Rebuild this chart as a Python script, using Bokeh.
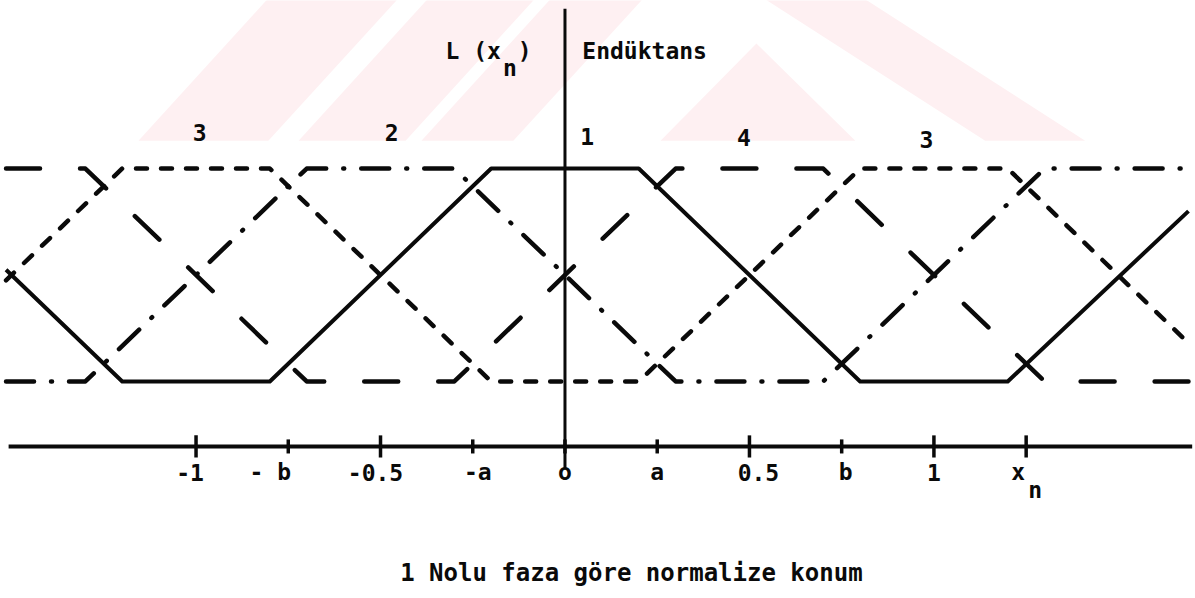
from bokeh.plotting import figure
from bokeh.models import Range1d, ColumnDataSource
from bokeh.core.properties import value
from bokeh.embed import file_html
from bokeh.resources import INLINE

# Normalized rotor position x_n (relative to phase 1) and normalized inductance L
phase1_x = [-1.515, -1.2, -0.8, -0.2, 0.2, 0.8, 1.2, 1.69]
phase1_L = [0.525, 0.0, 0.0, 1.0, 1.0, 0.0, 0.0, 0.8]
phase2_x = [-1.515, -1.3, -0.7, -0.3, 0.3, 0.7, 1.3, 1.69]
phase2_L = [0.0, 0.0, 1.0, 1.0, 0.0, 0.0, 1.0, 1.0]
phase3_x = [-1.515, -1.2, -0.8, -0.2, 0.2, 0.8, 1.2, 1.69]
phase3_L = [0.475, 1.0, 1.0, 0.0, 0.0, 1.0, 1.0, 0.18]
phase4_x = [-1.515, -1.3, -0.7, -0.3, 0.3, 0.7, 1.3, 1.69]
phase4_L = [1.0, 1.0, 0.0, 0.0, 1.0, 1.0, 0.0, 0.0]

# Phase numbers written above the curves
phase_label_text = ["3", "2", "1", "4", "3"]
phase_label_x = [-0.99, -0.47, 0.06, 0.485, 0.98]
phase_label_L = [1.17, 1.17, 1.15, 1.145, 1.135]

# Position axis ticks
tick_values = [-1.0, -0.75, -0.5, -0.25, 0.0, 0.25, 0.5, 0.75, 1.0, 1.25]
tick_labels = ["-1", "- b", "-0.5", "-a", "o", "a", "0.5", "b", "1", "x"]
tick_major = [True, False, True, False, False, False, True, False, True, True]

# faint background emblem behind the upper part of the page
emblem_xs = [
    [-1.156, -0.804, -0.451, -0.804],
    [-0.722, -0.432, -0.080, -0.370],
    [-0.389, -0.140, 0.213, -0.037],
    [0.259, 0.519, 0.787],
    [0.538, 0.809, 1.410, 1.139],
]
emblem_ys = [
    [1.131, 1.131, 1.80, 1.80],
    [1.131, 1.131, 1.80, 1.80],
    [1.131, 1.131, 1.80, 1.80],
    [1.131, 1.587, 1.131],
    [1.80, 1.80, 1.131, 1.131],
]

AXIS_L = -0.305
FONT = value("DejaVu Sans Mono")

p = figure(width=1195, height=598, output_backend="svg", toolbar_location=None,
           x_range=Range1d(-1.530, 1.709), y_range=Range1d(-1.019, 1.789),
           min_border=0, min_border_left=0, min_border_right=0,
           min_border_top=0, min_border_bottom=0)
p.axis.visible = False
p.grid.visible = False
p.outline_line_color = None
p.background_fill_color = "white"
p.border_fill_color = "white"

ink = "#0a0a0a"

p.patches(emblem_xs, emblem_ys, fill_color="#fef0f2", line_color=None)

# inductance profiles of the four phases
p.line(phase1_x, phase1_L, line_color=ink, line_width=4, line_join="round")
p.line(phase2_x, phase2_L, line_color=ink, line_width=4.5, line_dash="28 17 1 17",
       line_cap="round", line_join="round")
p.line(phase3_x, phase3_L, line_color=ink, line_width=4.5, line_dash="11 14",
       line_cap="round", line_join="round")
p.line(phase4_x, phase4_L, line_color=ink, line_width=4.5, line_dash="34 40",
       line_cap="round", line_join="round")

# axes drawn as plain lines
p.line([-1.508, 1.70], [AXIS_L, AXIS_L], line_color=ink, line_width=4)
p.line([0.0, 0.0], [-0.41, 1.75], line_color=ink, line_width=3)

tick_h = [0.052 if m else 0.033 for m in tick_major]
ticks = ColumnDataSource(dict(
    x=tick_values,
    y0=[AXIS_L - h for h in tick_h],
    y1=[AXIS_L + h for h in tick_h],
))
p.segment(x0="x", y0="y0", x1="x", y1="y1", source=ticks, line_color=ink,
          line_width=3.5)

label_shift = [-6, -18, -5, 5, 0, 0, 9, 4, 0, -8]
tick_text = ColumnDataSource(dict(
    x=tick_values, y=[-0.427] * len(tick_values), t=tick_labels, dx=label_shift,
))
p.text(x="x", y="y", text="t", x_offset="dx", source=tick_text, text_align="center",
       text_baseline="middle", text_font=FONT, text_font_style="bold",
       text_font_size="23px", text_color=ink)
p.text(x=[1.25], y=[-0.51], text=["n"], x_offset=[9], text_align="center",
       text_baseline="middle", text_font=FONT, text_font_style="bold",
       text_font_size="23px", text_color=ink)

# phase numbers
p.text(x=phase_label_x, y=phase_label_L, text=phase_label_text, text_align="center",
       text_baseline="middle", text_font=FONT, text_font_style="bold",
       text_font_size="23px", text_color=ink)

# axis captions
p.text(x=[-0.324, -0.168, -0.128], y=[1.554, 1.47, 1.554], text=["L (x", "n", ")"],
       text_align="left", text_baseline="middle", text_font=FONT,
       text_font_style="bold", text_font_size="23px", text_color=ink)
p.text(x=[0.047], y=[1.554], text=["Endüktans"], text_align="left",
       text_baseline="middle", text_font=FONT, text_font_style="bold",
       text_font_size="23px", text_color=ink)
p.text(x=[0.18], y=[-0.897], text=["1 Nolu faza göre normalize konum"],
       text_align="center", text_baseline="middle", text_font=FONT,
       text_font_style="bold", text_font_size="24px", text_color=ink)

open("out.html", "w").write(file_html(p, INLINE))
